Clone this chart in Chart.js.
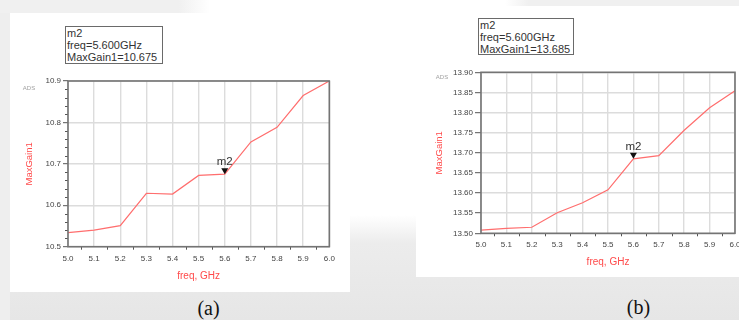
<!DOCTYPE html>
<html><head><meta charset="utf-8">
<script src="https://cdn.jsdelivr.net/npm/chart.js@4/dist/chart.umd.min.js"></script>
<style>
html,body{margin:0;padding:0;}
body{width:739px;height:320px;position:relative;overflow:hidden;background:#fff;font-family:"Liberation Sans",Arial,sans-serif;}
.bg{position:absolute;}
.panel{position:absolute;background:#fff;}
.panel canvas{position:absolute;left:0;top:0;}
.mbox{position:absolute;border:1.5px solid #6a6a6a;background:#fff;font:11px "Liberation Sans",Arial,sans-serif;color:#333;line-height:12px;padding:0 0 0 1px;box-sizing:border-box;white-space:nowrap;}
.cap{position:absolute;font:20px "Liberation Serif","Times New Roman",serif;color:#111;line-height:20px;transform:translateX(-50%);}
</style></head>
<body>
<div class="bg" style="left:0;top:215px;width:739px;height:105px;background:linear-gradient(to bottom,#ffffff 0px,#ececec 28px,#e6e6e6 100%);"></div>
<div class="bg" style="left:0;top:0;width:10px;height:320px;background:#eeeeee;"></div>
<div class="bg" style="left:0;top:0;width:210px;height:13px;background:linear-gradient(to right,#f0f0f0 0%,#f0f0f0 85%,#ffffff 100%);"></div>
<div class="bg" style="left:505px;top:0;width:234px;height:6px;background:linear-gradient(to right,#ffffff 0%,#f0f0f0 10%,#f0f0f0 100%);"></div>

<div class="panel" style="left:10px;top:13px;width:340px;height:279px;"><canvas id="ca" width="340" height="279"></canvas></div>
<div class="panel" style="left:416px;top:6px;width:323px;height:271px;"><canvas id="cb" width="323" height="271"></canvas></div>

<div class="mbox" style="left:65px;top:26px;width:98px;height:38px;">m2<br>freq=5.600GHz<br>MaxGain1=10.675</div>
<div class="mbox" style="left:478px;top:18px;width:96px;height:37px;">m2<br>freq=5.600GHz<br>MaxGain1=13.685</div>

<div class="cap" style="left:208.5px;top:298px;">(a)</div>
<div class="cap" style="left:638.5px;top:297px;">(b)</div>

<script>
// ---- data ----
const freqs = [5.0, 5.1, 5.2, 5.3, 5.4, 5.5, 5.6, 5.7, 5.8, 5.9, 6.0];
const gainA = [10.534, 10.540, 10.551, 10.629, 10.627, 10.672, 10.675, 10.753, 10.788, 10.865, 10.900];
const gainB = [13.508, 13.512, 13.515, 13.551, 13.576, 13.608, 13.685, 13.693, 13.756, 13.812, 13.854];
const markerFreq = 5.6;
const markerName = 'm2';
const xTitle = 'freq, GHz';
const yTitle = 'MaxGain1';

const FONT = '"Liberation Sans", Arial, sans-serif';
Chart.defaults.font.family = FONT;

function makeChart(id, values, o) {
  const idx = freqs.indexOf(markerFreq);
  const deco = {
    id: 'deco' + id,
    afterDatasetsDraw(chart) {
      const ctx = chart.ctx, a = chart.chartArea;
      const xs = chart.scales.x, ys = chart.scales.y;
      ctx.save();
      // minor ticks x
      ctx.strokeStyle = '#555'; ctx.lineWidth = 1;
      for (let k = 0; k < 10; k++) {
        const v = 5.05 + k * 0.1;
        const px = Math.round(xs.getPixelForValue(v)) + 0.5;
        ctx.beginPath(); ctx.moveTo(px, a.bottom); ctx.lineTo(px, a.bottom + 3); ctx.stroke();
      }
      // minor ticks y
      if (o.yMinor) {
        const n = Math.round((o.yMax - o.yMin) / o.yMinor);
        for (let k = 1; k < n; k++) {
          const v = o.yMin + k * o.yMinor;
          if (Math.abs(v / o.yStep - Math.round(v / o.yStep)) < 1e-6) continue;
          const py = Math.round(ys.getPixelForValue(v)) + 0.5;
          ctx.beginPath(); ctx.moveTo(a.left - 3, py); ctx.lineTo(a.left, py); ctx.stroke();
        }
      }
      // frame
      ctx.strokeStyle = '#747474'; ctx.lineWidth = 1.6;
      ctx.strokeRect(a.left, a.top, a.right - a.left, a.bottom - a.top);
      // marker
      const px = xs.getPixelForValue(markerFreq), py = ys.getPixelForValue(values[idx]);
      ctx.fillStyle = '#111';
      ctx.beginPath(); ctx.moveTo(px - 3.5, py - 6); ctx.lineTo(px + 3.5, py - 6); ctx.lineTo(px, py); ctx.closePath(); ctx.fill();
      ctx.fillStyle = '#333'; ctx.font = '11.5px ' + FONT; ctx.textAlign = 'center'; ctx.textBaseline = 'middle';
      ctx.fillText(markerName, px, py - 12);
      // ADS
      ctx.fillStyle = '#a0a0a0'; ctx.font = '6px ' + FONT;
      ctx.fillText('ADS', a.left - 39, a.top + o.adsDy);
      ctx.restore();
    }
  };
  return new Chart(document.getElementById(id), {
    type: 'line',
    data: {
      datasets: [{
        data: freqs.map((f, i) => ({x: f, y: values[i]})),
        borderColor: '#ff6e6e', borderWidth: 1.2, pointRadius: 0, tension: 0, fill: false
      }]
    },
    options: {
      responsive: false, animation: false, devicePixelRatio: 1, events: [],
      layout: {padding: {left: 0, top: o.padTop, right: o.padRight, bottom: 0}},
      plugins: {legend: {display: false}, tooltip: {enabled: false}},
      scales: {
        x: {
          type: 'linear', min: 5, max: 6,
          ticks: {stepSize: 0.1, callback: v => Number(v).toFixed(1), color: '#444', font: {size: 8}, padding: 7, maxRotation: 0, autoSkip: false},
          grid: {color: '#dcdcdc', lineWidth: 1.4, drawTicks: false},
          border: {display: false},
          title: {display: true, text: xTitle, color: '#ff4a4a', font: {size: 10}, padding: {top: 0, bottom: o.xTitlePad}},
          afterFit: s => { s.height = o.xAxisH; s.paddingLeft = 0; s.paddingRight = 0; }
        },
        y: {
          type: 'linear', min: o.yMin, max: o.yMax,
          ticks: {stepSize: o.yStep, callback: v => Number(v).toFixed(o.yDec), color: '#444', font: {size: 8}, padding: 2, autoSkip: false},
          grid: {color: '#dcdcdc', lineWidth: 1.4, drawTicks: true, tickLength: o.tickLen, tickColor: '#555', tickWidth: 1},
          border: {display: false},
          title: {display: true, text: yTitle, color: '#ff4a4a', font: {size: 9.5}, padding: {top: o.yTitlePad, bottom: 0}},
          afterFit: s => { s.width = o.yAxisW; s.paddingTop = 0; s.paddingBottom = 0; }
        }
      }
    },
    plugins: [deco]
  });
}

makeChart('ca', gainA, {yMin: 10.5, yMax: 10.9, yStep: 0.1, yDec: 1, yMinor: 0.02,
  yAxisW: 58, xAxisH: 45.3, padTop: 68, padRight: 20.7, tickLen: 5, yTitlePad: 13.5, xTitlePad: 9.3, adsDy: 7});
makeChart('cb', gainB, {yMin: 13.5, yMax: 13.9, yStep: 0.05, yDec: 2, yMinor: 0,
  yAxisW: 65, xAxisH: 43.7, padTop: 66.3, padRight: 4, tickLen: 6, yTitlePad: 17.5, xTitlePad: 8.7, adsDy: 5});
</script>
</body></html>
